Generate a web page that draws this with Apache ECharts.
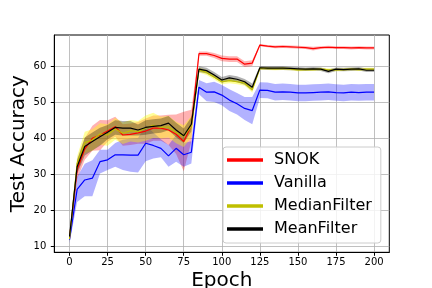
<!DOCTYPE html>
<html><head><meta charset="utf-8">
<script src="https://cdn.jsdelivr.net/npm/echarts@6/dist/echarts.min.js"></script>
<style>html,body{margin:0;padding:0;background:#fff}#c{width:432px;height:288px}</style>
</head><body><div id="c"></div>
<script>
const epochs = [0,5,10,15,20,25,30,35,40,45,50,55,60,65,70,75,80,85,90,95,100,105,110,115,120,125,130,135,140,145,150,155,160,165,170,175,180,185,190,195,200];
const xTicks = [0,25,50,75,100,125,150,175,200];
const yTicks = [10,20,30,40,50,60];

const snokMean = [12.2,31.2,37.0,40.0,40.9,42.0,43.2,40.9,41.1,41.5,42.0,42.8,42.8,42.3,41.1,39.1,43.5,63.5,63.5,63.0,62.2,62.0,62.0,60.6,60.9,65.9,65.6,65.4,65.5,65.4,65.3,65.2,64.9,65.2,65.3,65.2,65.2,65.1,65.2,65.1,65.1];
const snokStd  = [0.8,2.5,3,3.5,4.2,3,2.8,3,3,3,3.5,3.5,3.5,4.2,5.5,8.3,4.4,0.6,0.6,0.7,0.8,0.8,0.8,0.8,0.8,0.3,0.3,0.4,0.4,0.4,0.4,0.4,0.5,0.4,0.4,0.4,0.4,0.4,0.4,0.4,0.4];

const vanMean = [11.8,25.8,28.4,28.9,33.5,34.0,35.4,35.4,35.3,35.3,38.6,38.0,37.2,35.1,37.2,35.4,36.1,54.2,52.8,52.9,52.0,50.6,49.6,48.3,47.7,53.4,53.3,52.8,52.9,52.8,52.6,52.6,52.7,52.8,52.9,52.7,52.6,52.8,52.7,52.8,52.8];
const vanStd  = [1,3.5,4.5,5,3.3,2.8,3.3,4.2,4.6,4.8,5,3.6,2.5,3,3.7,3.3,3.1,2,2.5,2.8,2.8,3,3,3.2,3.8,2.2,2.2,2.3,2.3,2.3,2.3,2.3,2.3,2.3,2.3,2.3,2.3,2.3,2.3,2.3,2.3];

const medMean = [12.0,33.0,38.8,39.5,41.2,40.9,42.6,41.4,42.1,41.8,42.8,43.6,43.0,43.2,41.6,40.6,43.2,59.0,58.3,57.0,55.7,56.0,55.7,55.3,53.5,59.4,59.4,59.3,59.4,59.3,59.0,59.1,59.1,59.2,59.0,59.0,59.1,59.2,59.1,59.2,59.2];
const medStd  = [0.8,2,3,3,3,3,3,3,3,3,3.5,3.5,3,3,3,3,3,0.7,0.7,0.7,0.7,0.7,0.7,0.7,0.8,0.4,0.4,0.4,0.4,0.4,0.4,0.4,0.4,0.4,0.4,0.4,0.4,0.4,0.4,0.4,0.4];

const meanMean = [12.7,32.1,37.7,39.1,40.4,41.7,43.0,42.8,42.8,42.3,43.0,43.3,43.5,44.2,42.3,40.7,43.9,59.2,58.8,57.6,56.2,56.8,56.4,55.7,54.2,59.6,59.5,59.5,59.5,59.4,59.3,59.2,59.3,59.2,58.6,59.2,59.1,59.2,59.3,58.9,58.9];
const meanStd  = [0.8,2,2.5,2.5,2.5,2,2,2,2,1.5,2,2,2,2,2,2,2,0.8,0.8,0.8,0.8,0.8,0.8,0.8,1.0,0.5,0.5,0.5,0.5,0.5,0.5,0.5,0.5,0.5,0.5,0.5,0.5,0.5,0.5,0.5,0.5];

const names = ['SNOK','Vanilla','MedianFilter','MeanFilter'];
const FONT = 'DejaVu Sans';

function bandSeries(key, mean, std, color){
  return {type:'custom', name:key+'_band', silent:true, z:1, data:[[epochs[0], mean[0]]],
    renderItem:function(params, api){
      const up = epochs.map((e,i)=>api.coord([e, mean[i]+std[i]]));
      const lo = epochs.map((e,i)=>api.coord([e, mean[i]-std[i]])).reverse();
      return {type:'polygon', shape:{points:up.concat(lo)}, style:{fill:color}};
    }};
}
function lineSeries(name, mean, color){
  return {type:'line', name:name, data:epochs.map((e,i)=>[e, mean[i]]), symbol:'none',
    lineStyle:{color:color, width:1.2}, itemStyle:{color:color}, z:3};
}

const series = [
  bandSeries('s', snokMean, snokStd, 'rgba(255,0,0,0.3)'),
  bandSeries('v', vanMean, vanStd, 'rgba(0,0,255,0.3)'),
  bandSeries('m', medMean, medStd, 'rgba(255,255,0,0.4)'),
  bandSeries('k', meanMean, meanStd, 'rgba(0,0,0,0.3)'),
  lineSeries('SNOK', snokMean, '#ff0000'),
  lineSeries('Vanilla', vanMean, '#0000ff'),
  lineSeries('MedianFilter', medMean, '#bfbf00'),
  lineSeries('MeanFilter', meanMean, '#000000')
];

const chart = echarts.init(document.getElementById('c'), null, {renderer:'canvas'});
chart.setOption({
  animation:false,
  backgroundColor:'#ffffff',
  grid:{left:54.3, right:42.7, top:35, bottom:35.7, show:true, borderColor:'#000', borderWidth:1,
    backgroundColor:'transparent', containLabel:false, outerBoundsMode:'none'},
  xAxis:{type:'value', min:-10, max:210,
    axisLine:{show:true, onZero:false, lineStyle:{color:'#000', width:1}},
    axisTick:{show:true, inside:false, length:3.5, customValues:xTicks, lineStyle:{color:'#000'}},
    axisLabel:{customValues:xTicks, color:'#000', fontSize:10, fontFamily:FONT, margin:5},
    splitLine:{show:true, lineStyle:{color:'#b0b0b0', width:0.8}},
    name:'Epoch', nameLocation:'middle', nameGap:18, nameMoveOverlap:false,
    nameTextStyle:{fontSize:20, color:'#000', fontFamily:FONT}},
  yAxis:{type:'value', min:8.3, max:68.7,
    axisLine:{show:true, onZero:false, lineStyle:{color:'#000', width:1}},
    axisTick:{show:true, inside:false, length:3.5, customValues:yTicks, lineStyle:{color:'#000'}},
    axisLabel:{customValues:yTicks, color:'#000', fontSize:10, fontFamily:FONT, margin:8},
    splitLine:{show:true, lineStyle:{color:'#b0b0b0', width:0.8}},
    name:'Test Accuracy', nameLocation:'middle', nameGap:26, nameMoveOverlap:false,
    nameTextStyle:{fontSize:20, color:'#000', fontFamily:FONT}},
  legend:{data:names, orient:'vertical', left:223, top:147, icon:'rect', itemWidth:36, itemHeight:3.5,
    itemGap:7, padding:[5,9,6,4], backgroundColor:'rgba(255,255,255,0.8)', borderColor:'#cccccc',
    borderWidth:1, borderRadius:3,
    textStyle:{fontSize:16, color:'#000', fontFamily:FONT, padding:[0,0,0,6]}},
  series:series
});
</script></body></html>
